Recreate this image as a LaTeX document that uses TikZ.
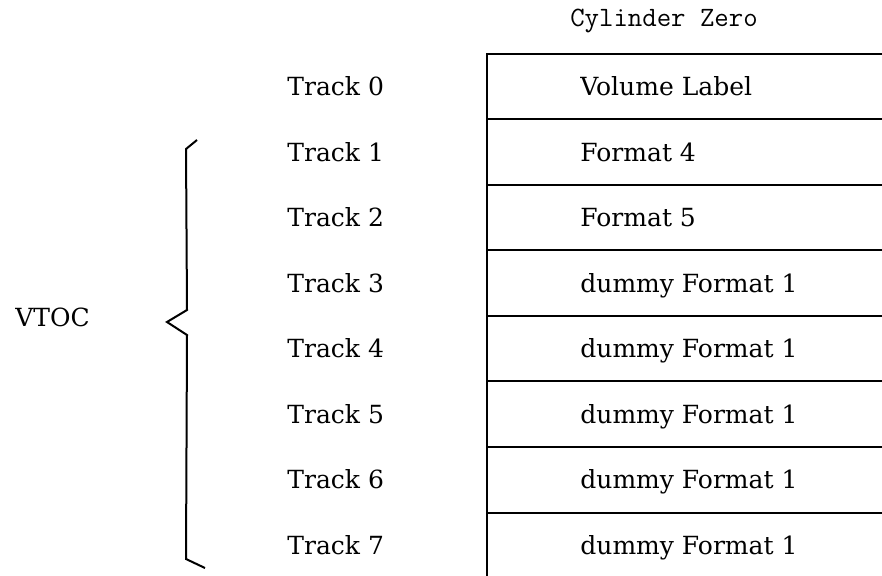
\documentclass[tikz,border=0pt]{standalone}
\usepackage{fontspec}
\setmainfont{DejaVu Serif}

\begin{document}
\begin{tikzpicture}[x=0.5pt, y=-0.5pt,
    trk/.style={anchor=base west, inner sep=0pt, font=\fontsize{12.5}{15}\selectfont},
    cell/.style={anchor=base west, inner sep=0pt, font=\fontsize{12.5}{15}\selectfont},
    rule/.style={line width=1pt}]

    % Frame of the page; the box runs off the right and bottom edges
    \useasboundingbox (0,0) rectangle (882,576);
    \clip (0,0) rectangle (882,576);

    % Heading over the box
    \node[anchor=base, inner sep=0pt, font=\ttfamily\fontsize{14}{16}\selectfont] (cylhead) at (664, 27) {Cylinder Zero};

    % Cylinder box: outer edges
    \draw[rule] (900, 54) -- (487, 54) -- (487, 600);

    % Cylinder box: lines between the tracks
    \draw[rule] (487, 119.5) -- (900, 119.5);
    \draw[rule] (487, 185) -- (900, 185);
    \draw[rule] (487, 250.5) -- (900, 250.5);
    \draw[rule] (487, 316) -- (900, 316);
    \draw[rule] (487, 381.5) -- (900, 381.5);
    \draw[rule] (487, 447) -- (900, 447);
    \draw[rule] (487, 512.5) -- (900, 512.5);
    \draw[rule] (487, 578) -- (900, 578);

    % Track numbers
    \node[trk] (trk0) at (287, 95.75) {Track 0};
    \node[trk] (trk1) at (287, 161.25) {Track 1};
    \node[trk] (trk2) at (287, 226.75) {Track 2};
    \node[trk] (trk3) at (287, 292.25) {Track 3};
    \node[trk] (trk4) at (287, 357.75) {Track 4};
    \node[trk] (trk5) at (287, 423.25) {Track 5};
    \node[trk] (trk6) at (287, 488.75) {Track 6};
    \node[trk] (trk7) at (287, 554.25) {Track 7};

    % Contents of each track
    \node[cell] (cell0) at (580, 95.75) {Volume Label};
    \node[cell] (cell1) at (580, 161.25) {Format 4};
    \node[cell] (cell2) at (580, 226.75) {Format 5};
    \node[cell] (cell3) at (580, 292.25) {dummy Format 1};
    \node[cell] (cell4) at (580, 357.75) {dummy Format 1};
    \node[cell] (cell5) at (580, 423.25) {dummy Format 1};
    \node[cell] (cell6) at (580, 488.75) {dummy Format 1};
    \node[cell] (cell7) at (580, 554.25) {dummy Format 1};

    % VTOC brace over tracks 1 to 7
    \draw[rule] (197, 140) -- (186, 149) -- (187, 310) -- (167, 322) -- (187, 335) -- (186, 559) -- (205, 568);
    \node[trk] (vtoc) at (15, 327) {VTOC};

\end{tikzpicture}
\end{document}
